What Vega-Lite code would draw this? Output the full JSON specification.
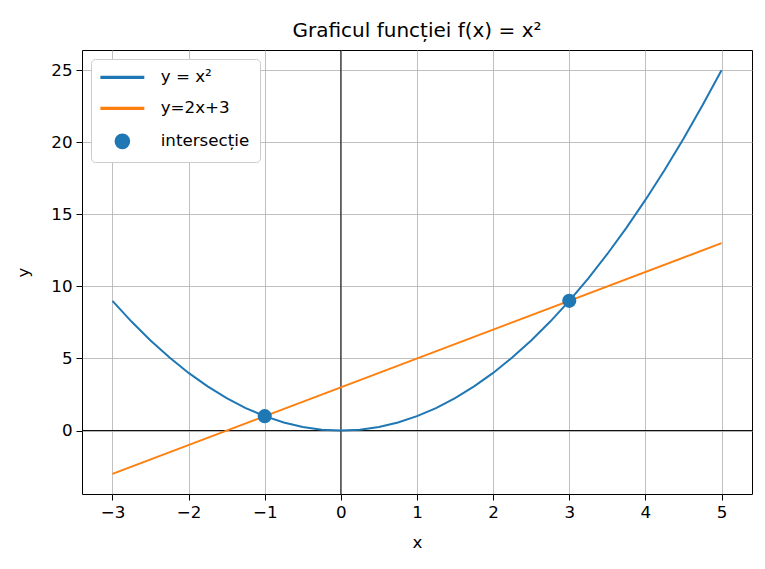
{
  "$schema": "https://vega.github.io/schema/vega-lite/v6.json",
  "width": 670,
  "height": 444,
  "autosize": {"type": "none"},
  "padding": {"left": 82, "top": 50, "right": 13, "bottom": 75},
  "background": "white",
  "title": {"text": "Graficul funcției f(x) = x²", "font": "DejaVu Sans", "fontSize": 20, "fontWeight": "normal", "color": "black", "offset": 9},
  "config": {
    "font": "DejaVu Sans",
    "view": {"stroke": "black", "strokeWidth": 1},
    "axis": {
      "domain": false,
      "grid": true,
      "gridColor": "#b0b0b0",
      "gridWidth": 0.8,
      "gridOpacity": 1,
      "ticks": true,
      "tickColor": "black",
      "tickSize": 6,
      "tickWidth": 1,
      "labelFont": "DejaVu Sans",
      "labelFontSize": 16.7,
      "labelColor": "black",
      "labelPadding": 4,
      "titleFont": "DejaVu Sans",
      "titleFontSize": 16.7,
      "titleFontWeight": "normal",
      "titleColor": "black"
    },
    "legend": {
      "orient": "top-left", "offset": 9, "padding": 10, "strokeColor": "#cccccc", "fillColor": "white", "cornerRadius": 4,
      "labelFont": "DejaVu Sans", "labelFontSize": 16.7, "labelColor": "black", "labelOffset": 30, "rowPadding": 13, "symbolOpacity": 1, "symbolSize": 200, "symbolOffset": 13
    }
  },
  "datasets": {
    "parabola": [
      {"x": -3, "y": 9, "serie": "y = x²"}, {"x": -2.75, "y": 7.5625, "serie": "y = x²"}, {"x": -2.5, "y": 6.25, "serie": "y = x²"}, {"x": -2.25, "y": 5.0625, "serie": "y = x²"},
      {"x": -2, "y": 4, "serie": "y = x²"}, {"x": -1.75, "y": 3.0625, "serie": "y = x²"}, {"x": -1.5, "y": 2.25, "serie": "y = x²"}, {"x": -1.25, "y": 1.5625, "serie": "y = x²"},
      {"x": -1, "y": 1, "serie": "y = x²"}, {"x": -0.75, "y": 0.5625, "serie": "y = x²"}, {"x": -0.5, "y": 0.25, "serie": "y = x²"}, {"x": -0.25, "y": 0.0625, "serie": "y = x²"},
      {"x": 0, "y": 0, "serie": "y = x²"}, {"x": 0.25, "y": 0.0625, "serie": "y = x²"}, {"x": 0.5, "y": 0.25, "serie": "y = x²"}, {"x": 0.75, "y": 0.5625, "serie": "y = x²"},
      {"x": 1, "y": 1, "serie": "y = x²"}, {"x": 1.25, "y": 1.5625, "serie": "y = x²"}, {"x": 1.5, "y": 2.25, "serie": "y = x²"}, {"x": 1.75, "y": 3.0625, "serie": "y = x²"},
      {"x": 2, "y": 4, "serie": "y = x²"}, {"x": 2.25, "y": 5.0625, "serie": "y = x²"}, {"x": 2.5, "y": 6.25, "serie": "y = x²"}, {"x": 2.75, "y": 7.5625, "serie": "y = x²"},
      {"x": 3, "y": 9, "serie": "y = x²"}, {"x": 3.25, "y": 10.5625, "serie": "y = x²"}, {"x": 3.5, "y": 12.25, "serie": "y = x²"}, {"x": 3.75, "y": 14.0625, "serie": "y = x²"},
      {"x": 4, "y": 16, "serie": "y = x²"}, {"x": 4.25, "y": 18.0625, "serie": "y = x²"}, {"x": 4.5, "y": 20.25, "serie": "y = x²"}, {"x": 4.75, "y": 22.5625, "serie": "y = x²"},
      {"x": 5, "y": 25, "serie": "y = x²"}
    ],
    "dreapta": [
      {"x": -3, "y": -3, "serie": "y=2x+3"},
      {"x": 5, "y": 13, "serie": "y=2x+3"}
    ],
    "intersectii": [
      {"x": -1, "y": 1, "serie": "intersecție"},
      {"x": 3, "y": 9, "serie": "intersecție"}
    ],
    "axe": [{"zero": 0}]
  },
  "layer": [
    {
      "data": {"name": "axe"},
      "mark": {"type": "rule", "color": "black", "strokeWidth": 1},
      "encoding": {"x": {"field": "zero", "type": "quantitative"}}
    },
    {
      "data": {"name": "axe"},
      "mark": {"type": "rule", "color": "black", "strokeWidth": 1},
      "encoding": {"y": {"field": "zero", "type": "quantitative"}}
    },
    {
      "data": {"name": "parabola"},
      "mark": {"type": "line", "strokeWidth": 2},
      "encoding": {
        "x": {"field": "x", "type": "quantitative", "title": "x", "scale": {"domain": [-3.4, 5.4], "nice": false, "zero": false}, "axis": {"values": [-3, -2, -1, 0, 1, 2, 3, 4, 5], "format": "d", "titlePadding": 14}},
        "y": {"field": "y", "type": "quantitative", "title": "y", "scale": {"domain": [-4.4, 26.4], "nice": false, "zero": false}, "axis": {"values": [0, 5, 10, 15, 20, 25], "format": "d", "titlePadding": 18}},
        "color": {"field": "serie", "type": "nominal", "title": null, "scale": {"domain": ["y = x²", "y=2x+3", "intersecție"], "range": ["#1f77b4", "#ff7f0e", "#1f77b4"]}}
      }
    },
    {
      "data": {"name": "dreapta"},
      "mark": {"type": "line", "strokeWidth": 2},
      "encoding": {
        "x": {"field": "x", "type": "quantitative"},
        "y": {"field": "y", "type": "quantitative"},
        "color": {"field": "serie", "type": "nominal", "title": null}
      }
    },
    {
      "data": {"name": "intersectii"},
      "mark": {"type": "point", "filled": true, "opacity": 1, "size": 200},
      "encoding": {
        "x": {"field": "x", "type": "quantitative"},
        "y": {"field": "y", "type": "quantitative"},
        "color": {"field": "serie", "type": "nominal", "title": null},
        "shape": {"field": "serie", "type": "nominal", "title": null,
          "scale": {"domain": ["y = x²", "y=2x+3", "intersecție"], "range": ["M-3,-0.12H3V0.12H-3Z", "M-3,-0.12H3V0.12H-3Z", "circle"]}}
      }
    }
  ]
}
